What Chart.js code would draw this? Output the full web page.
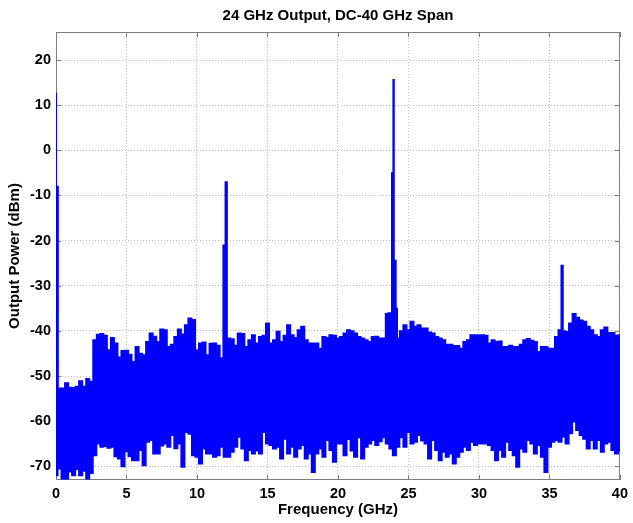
<!DOCTYPE html>
<html><head><meta charset="utf-8">
<script src="https://cdn.jsdelivr.net/npm/chart.js@4.4.0/dist/chart.umd.min.js"></script>
<style>html,body{margin:0;padding:0;background:#fff}#wrap{width:633px;height:523px}</style>
</head><body><div id="wrap"><canvas id="c" width="633" height="523"></canvas></div>
<script>
const chartTitle = "24 GHz Output, DC-40 GHz Span";
const xAxisTitle = "Frequency (GHz)";
const yAxisTitle = "Output Power (dBm)";
const xTickLabels = [0, 5, 10, 15, 20, 25, 30, 35, 40];
const yTickLabels = [-70, -60, -50, -40, -30, -20, -10, 0, 10, 20];
const gridStep = 0.25; // GHz between envelope samples (0, 0.25 ... 40 GHz)

// upper envelope of the noise trace (dBm)
const upperEnvelope = [
  -52.7, -52.7, -52.7, -51.5, -52.5, -52.6, -52.3, -51.1, -52.3, -50.6, -51.2, -42.0,
  -40.8, -40.6, -41.0, -44.2, -41.5, -42.7, -45.8, -44.4, -44.3, -45.2, -46.8, -43.5,
  -45.0, -45.3, -42.4, -40.5, -41.2, -42.4, -39.6, -39.8, -43.5, -43.0, -41.3, -39.6,
  -40.7, -38.7, -37.2, -37.5, -44.2, -42.7, -42.5, -45.3, -42.8, -42.7, -43.2, -46.0,
  -42.0, -41.6, -41.8, -43.2, -40.5, -40.6, -43.5, -42.0, -40.9, -42.7, -41.3, -41.0,
  -38.3, -42.7, -42.0, -40.1, -42.4, -41.0, -38.7, -40.9, -41.5, -39.8, -39.0, -42.0,
  -42.7, -42.7, -42.7, -43.9, -41.3, -41.5, -40.9, -41.0, -41.6, -41.3, -40.5, -39.8,
  -40.0, -40.5, -41.3, -41.6, -42.0, -42.4, -41.3, -41.2, -41.6, -41.6, -36.2, -36.0,
  -36.0, -41.6, -40.0, -38.7, -39.8, -37.9, -39.0, -38.7, -39.4, -39.4, -40.3, -40.5,
  -41.3, -41.6, -42.0, -43.0, -43.0, -43.3, -43.3, -43.9, -42.4, -42.0, -40.9, -40.9,
  -40.9, -40.9, -41.0, -42.7, -42.0, -42.4, -42.3, -43.5, -43.5, -43.2, -43.5, -43.5,
  -43.0, -42.0, -41.7, -42.1, -42.4, -44.6, -43.5, -43.5, -43.9, -43.9, -41.3, -39.8,
  -40.0, -40.2, -38.3, -36.2, -37.0, -37.6, -37.9, -39.0, -39.8, -40.9, -41.3, -39.8,
  -39.2, -40.4, -40.4, -41.0, -40.9
];

// lower envelope of the noise trace (dBm), same frequency grid
const lowerEnvelope = [
  -72.0, -70.5, -72.7, -72.7,  -71.2, -72.0, -70.6, -72.0,  -71.0, -72.7, -71.5, -67.6,
  -65.0, -65.7, -65.5, -65.9,  -65.7, -67.8, -68.3, -70.0,  -66.7, -67.8, -68.7, -68.7,
  -66.4, -69.8, -64.6, -64.2,  -67.2, -67.2, -65.4, -65.0,  -65.7, -63.1, -66.0, -65.0,
  -70.1, -62.4, -62.8, -67.6,  -67.9, -69.4, -66.1, -67.2,  -67.2, -67.9, -67.6, -65.7,
  -67.9, -67.9, -66.8, -65.7,  -63.5, -66.1, -68.7, -66.4,  -67.2, -66.5, -67.2, -62.4,
  -65.0, -65.3, -66.1, -65.7,  -68.3, -63.9, -67.2, -65.7,  -67.9, -66.1, -65.3, -68.3,
  -67.2, -71.3, -67.2, -66.1,  -67.9, -64.2, -66.4, -69.0,  -65.0, -65.0, -67.6, -64.0,
  -66.5, -67.9, -63.6, -68.3,  -65.7, -65.0, -64.2, -65.3,  -64.5, -63.6, -65.0, -66.1,
  -67.6, -65.7, -63.6, -65.7,  -62.4, -65.0, -64.6, -63.1,  -64.3, -65.0, -68.3, -64.2,
  -66.4, -68.7, -66.8, -67.9,  -67.2, -69.4, -67.9, -66.8,  -65.7, -66.4, -64.6, -65.3,
  -65.0, -65.0, -65.0, -65.3,  -66.4, -68.7, -66.4, -67.9,  -64.6, -66.4, -67.6, -70.1,
  -66.1, -66.8, -64.2, -65.0,  -67.2, -65.3, -67.9, -71.3,  -65.7, -64.6, -64.2, -64.6,
  -63.5, -65.0, -62.7, -60.1,  -62.0, -63.1, -63.9, -66.1,  -64.2, -66.1, -64.2, -66.8,
  -65.0, -64.6, -66.4, -67.2,  -66.5
];

// discrete tones / spurs
const toneFreqs  = [0.0, 0.04, 11.96, 12.02, 23.62, 23.88, 23.95, 24.06, 24.16, 35.92];
const toneLevels = [12.6, -8.0, -21.0, -7.0, -36.0, -5.0, 15.6, -24.4, -35.0, -25.5];

const upperPoints = upperEnvelope.map((v, i) => ({x: i * gridStep, y: v}));
toneFreqs.forEach((f, i) => upperPoints.push({x: f, y: toneLevels[i]}));
upperPoints.sort((a, b) => a.x - b.x);
const lowerPoints = lowerEnvelope.map((v, i) => ({x: i * gridStep, y: v}));

const FONT = '"Liberation Sans", Arial, Helvetica, sans-serif';
const AXIS_COLOR = '#7d7d7d';
const TRACE = '#0000ff';

const framePlugin = {
  id: 'frame',
  beforeDatasetsDraw(chart) {
    const {ctx, chartArea: a, scales: {x, y}} = chart;
    ctx.save();
    ctx.strokeStyle = AXIS_COLOR;
    ctx.lineWidth = 1;
    ctx.strokeRect(a.left + 0.5, a.top + 0.5, a.right - a.left - 1, a.bottom - a.top - 1);
    const tl = 5;
    ctx.beginPath();
    xTickLabels.forEach(v => {
      const px = Math.round(x.getPixelForValue(v)) + 0.5;
      ctx.moveTo(px, a.bottom); ctx.lineTo(px, a.bottom - tl);
      ctx.moveTo(px, a.top); ctx.lineTo(px, a.top + tl);
    });
    yTickLabels.forEach(v => {
      const py = Math.round(y.getPixelForValue(v)) + 0.5;
      ctx.moveTo(a.left, py); ctx.lineTo(a.left + tl, py);
      ctx.moveTo(a.right, py); ctx.lineTo(a.right - tl, py);
    });
    ctx.stroke();
    ctx.restore();
  },
  afterDraw(chart) {
    const {ctx, chartArea: a} = chart;
    ctx.save();
    ctx.fillStyle = '#000';
    ctx.font = 'bold 15px ' + FONT;
    ctx.textAlign = 'center';
    ctx.textBaseline = 'middle';
    ctx.fillText(chartTitle, (a.left + a.right) / 2, 16);
    ctx.restore();
  }
};

new Chart(document.getElementById('c'), {
  type: 'line',
  data: {
    datasets: [{
      data: upperPoints,
      borderColor: TRACE,
      backgroundColor: TRACE,
      borderWidth: 1.5,
      pointRadius: 0,
      stepped: 'middle',
      fill: '+1'
    }, {
      data: lowerPoints,
      borderColor: TRACE,
      backgroundColor: TRACE,
      borderWidth: 1.5,
      pointRadius: 0,
      stepped: 'middle',
      fill: false
    }]
  },
  options: {
    responsive: false,
    animation: false,
    events: [],
    layout: {padding: {top: 32, right: 9, left: 0, bottom: 0}},
    plugins: {legend: {display: false}, tooltip: {enabled: false}, title: {display: false}},
    scales: {
      x: {
        type: 'linear',
        min: 0, max: 40,
        afterBuildTicks: s => { s.ticks = xTickLabels.map(v => ({value: v})); },
        afterFit: s => { s.height = 43; },
        grid: {color: '#bdbdbd', lineWidth: 1, drawTicks: false},
        border: {display: false, dash: [1, 2]},
        ticks: {color: '#000', padding: 5, font: {family: FONT, size: 14.5, weight: 'bold'}, maxRotation: 0},
        title: {display: true, text: xAxisTitle, color: '#000', padding: {top: 0, bottom: 4},
                font: {family: FONT, size: 15, weight: 'bold'}}
      },
      y: {
        type: 'linear',
        min: -73, max: 26.2,
        afterBuildTicks: s => { s.ticks = yTickLabels.map(v => ({value: v})); },
        afterFit: s => { s.width = 56; },
        grid: {color: '#bdbdbd', lineWidth: 1, drawTicks: false},
        border: {display: false, dash: [1, 2]},
        ticks: {color: '#000', padding: 5, font: {family: FONT, size: 14.5, weight: 'bold'}},
        title: {display: true, text: yAxisTitle, color: '#000', padding: {top: 6, bottom: 0},
                font: {family: FONT, size: 15, weight: 'bold'}}
      }
    }
  },
  plugins: [framePlugin]
});
</script>
</body></html>
